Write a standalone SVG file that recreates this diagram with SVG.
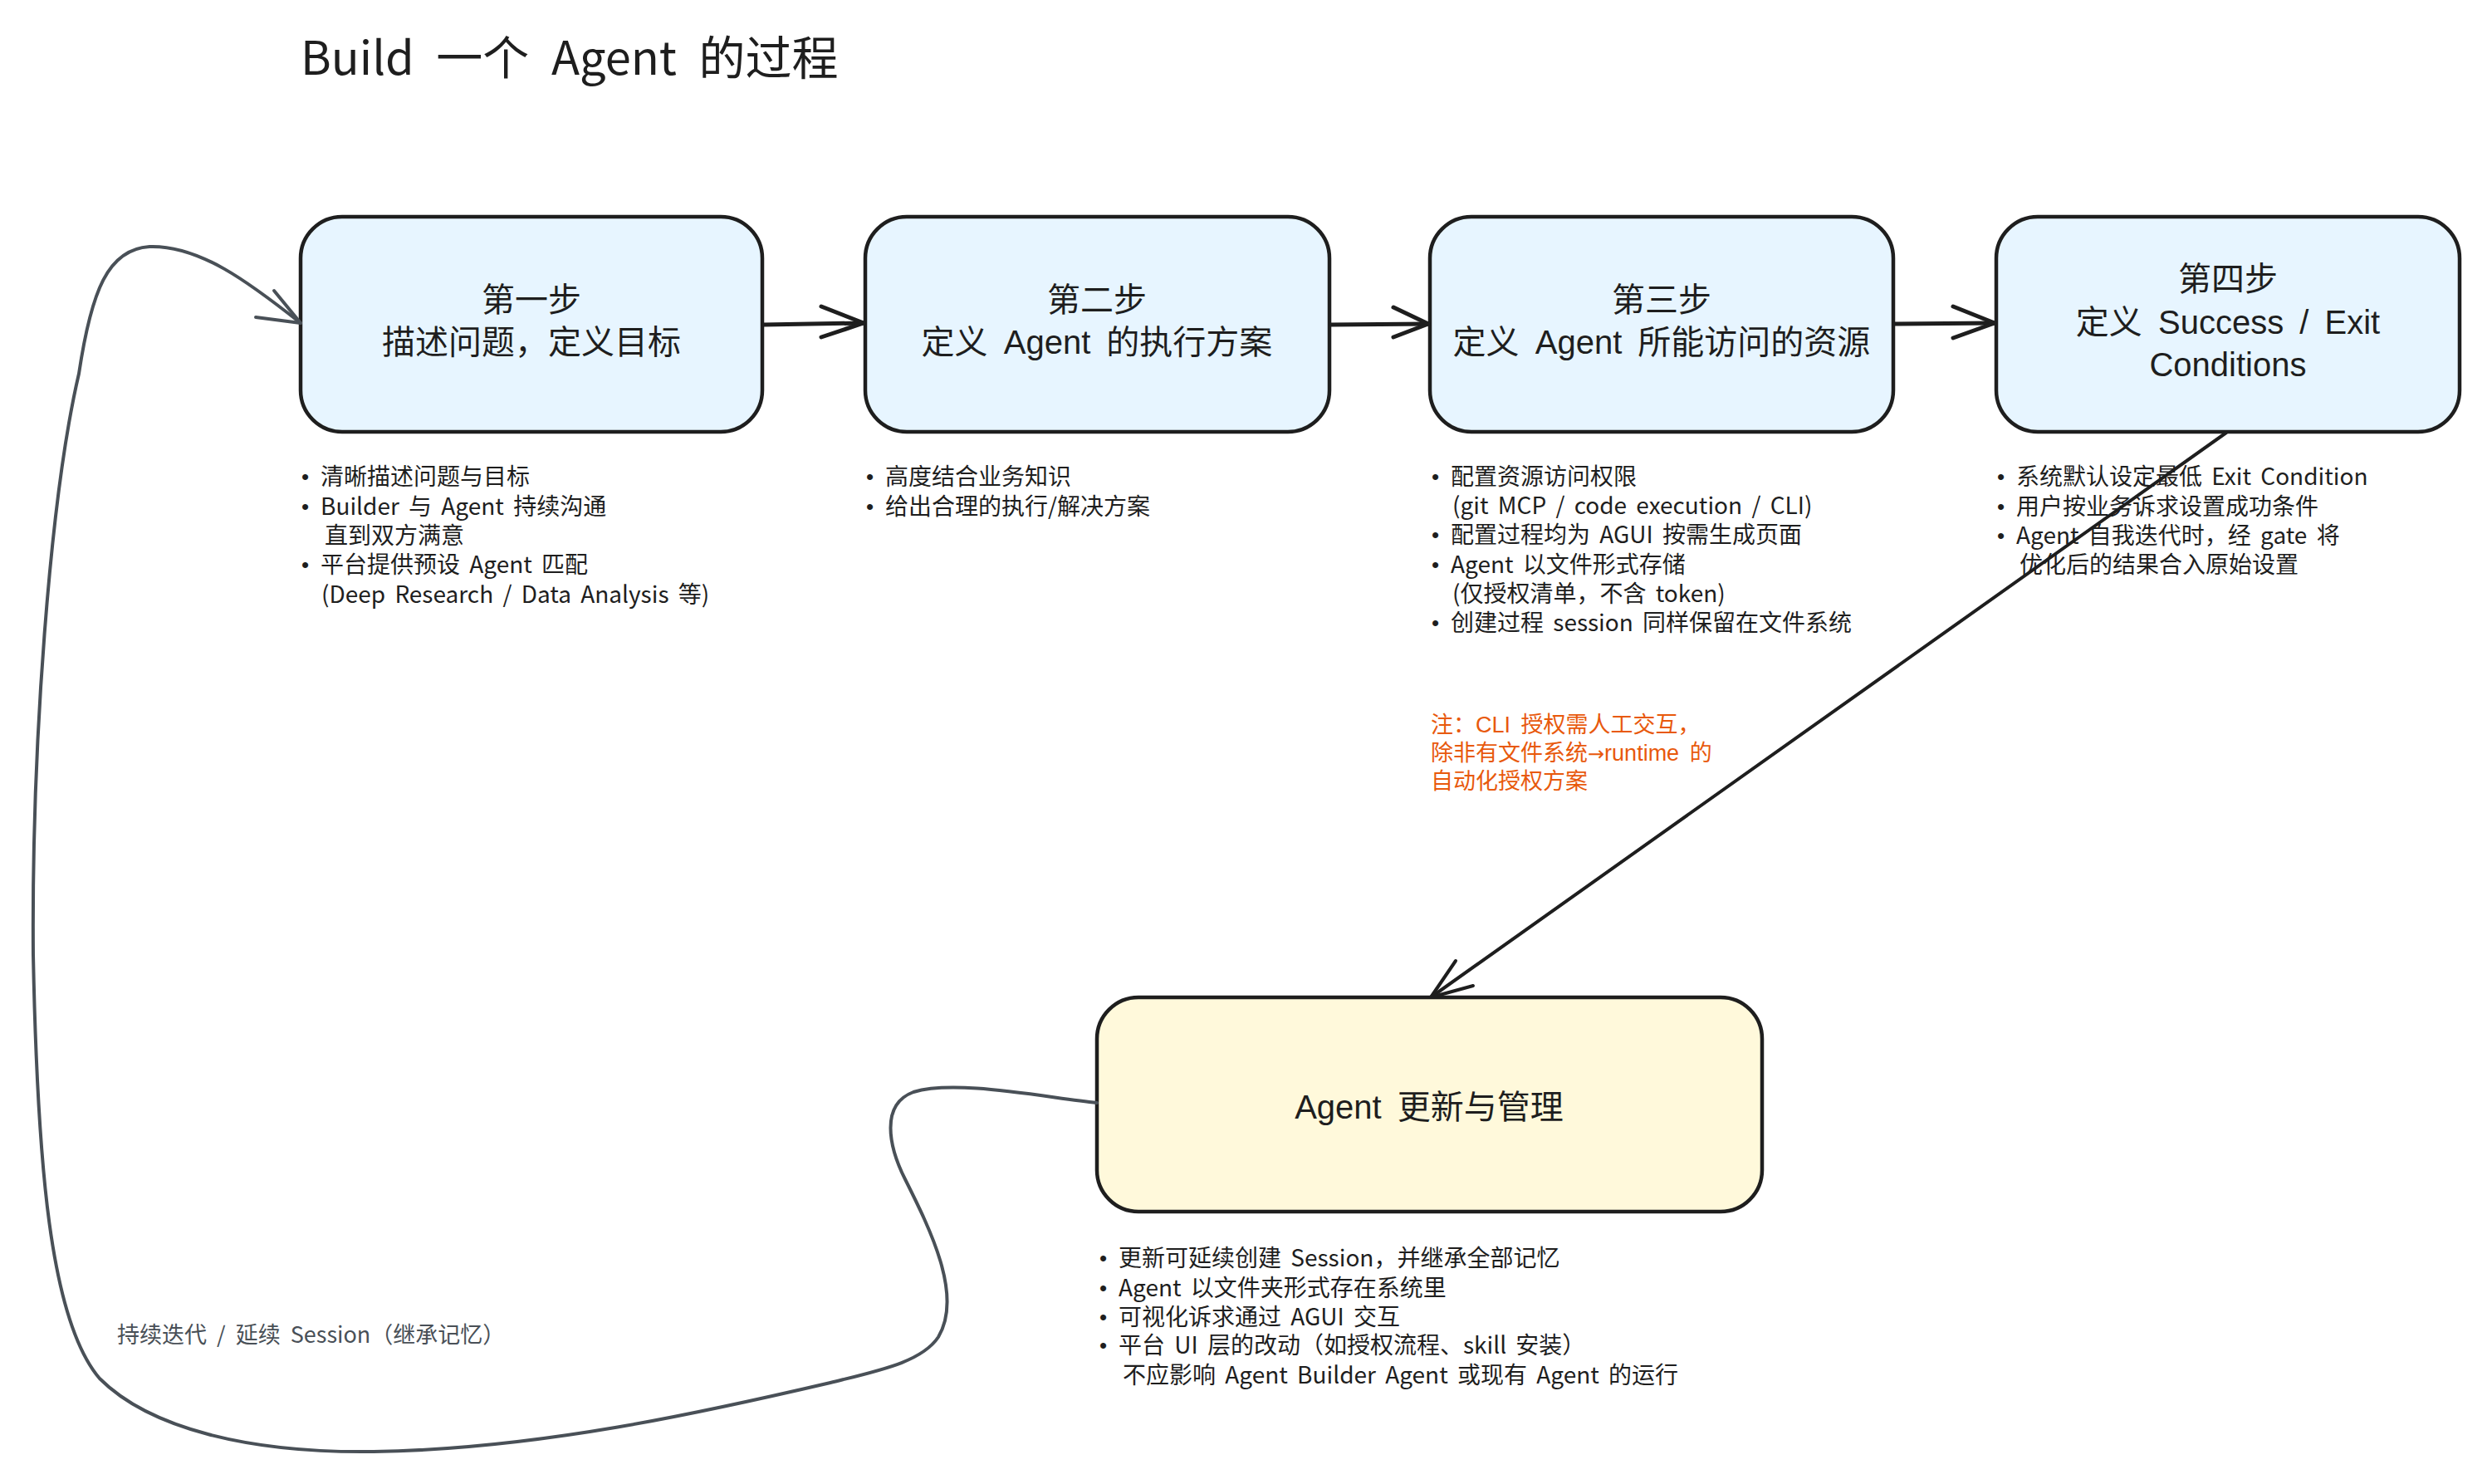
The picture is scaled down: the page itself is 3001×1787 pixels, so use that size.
<svg xmlns="http://www.w3.org/2000/svg" width="3001" height="1787" viewBox="0 0 3001 1787">
<style>
  text { font-family: 'Noto Sans CJK SC', 'Noto Sans', sans-serif; }
  .title { font-size: 56px; fill: #1e1e1e; word-spacing: 14px; }
  .box { fill: #e7f5ff; stroke: #1e1e1e; stroke-width: 4.5; }
  .box2 { fill: #fff9db; stroke: #1e1e1e; stroke-width: 4.5; }
  .lbl { font-family: 'Liberation Sans', 'Noto Sans CJK SC', sans-serif; font-size: 40px; fill: #1e1e1e; text-anchor: middle; word-spacing: 8px; }
  .bul { font-size: 28px; fill: #1e1e1e; word-spacing: 5px; }
  .dot { font-family: 'Liberation Sans', sans-serif; font-size: 26px; fill: #1e1e1e; }
  .note { font-family: 'Liberation Sans', 'Noto Sans CJK SC', sans-serif; font-size: 27px; fill: #e8590c; word-spacing: 5px; }
  .arr { font-family: 'DejaVu Sans', sans-serif; font-size: 24px; }
  .fb { font-size: 27px; fill: #495057; word-spacing: 6px; }
  .conn { fill: none; stroke: #1e1e1e; stroke-width: 5; stroke-linecap: round; stroke-linejoin: round; }
  .conn2 { fill: none; stroke: #1e1e1e; stroke-width: 4; stroke-linecap: round; stroke-linejoin: round; }
  .loop { fill: none; stroke: #495057; stroke-width: 4; stroke-linecap: round; stroke-linejoin: round; }
</style>
<rect width="3001" height="1787" fill="#ffffff"/>

<g id="title">
  <text class="title" x="362" y="90">Build 一个 Agent 的过程</text>
</g>

<g id="step1">
  <rect class="box" x="362" y="261" width="556" height="259" rx="50"/>
  <text class="lbl" x="640" y="375">第一步</text>
  <text class="lbl" x="640" y="426">描述问题，定义目标</text>
  <text class="dot" x="363" y="583">•</text>
  <text class="bul" x="386" y="584">清晰描述问题与目标</text>
  <text class="dot" x="363" y="619">•</text>
  <text class="bul" x="386" y="620">Builder 与 Agent 持续沟通</text>
  <text class="bul" x="391" y="655">直到双方满意</text>
  <text class="dot" x="363" y="689">•</text>
  <text class="bul" x="386" y="690">平台提供预设 Agent 匹配</text>
  <text class="bul" x="387" y="726">(Deep Research / Data Analysis 等)</text>
</g>

<g id="step2">
  <rect class="box" x="1042" y="261" width="559" height="259" rx="50"/>
  <text class="lbl" x="1321" y="375">第二步</text>
  <text class="lbl" x="1321" y="426">定义 Agent 的执行方案</text>
  <text class="dot" x="1043" y="583">•</text>
  <text class="bul" x="1066" y="584">高度结合业务知识</text>
  <text class="dot" x="1043" y="619">•</text>
  <text class="bul" x="1066" y="620">给出合理的执行/解决方案</text>
</g>

<g id="step3">
  <rect class="box" x="1722" y="261" width="558" height="259" rx="50"/>
  <text class="lbl" x="2001" y="375">第三步</text>
  <text class="lbl" x="2001" y="426">定义 Agent 所能访问的资源</text>
  <text class="dot" x="1724" y="583">•</text>
  <text class="bul" x="1747" y="584">配置资源访问权限</text>
  <text class="bul" x="1749" y="619">(git MCP / code execution / CLI)</text>
  <text class="dot" x="1724" y="653">•</text>
  <text class="bul" x="1747" y="654">配置过程均为 AGUI 按需生成页面</text>
  <text class="dot" x="1724" y="689">•</text>
  <text class="bul" x="1747" y="690">Agent 以文件形式存储</text>
  <text class="bul" x="1749" y="725">(仅授权清单，不含 token)</text>
  <text class="dot" x="1724" y="759">•</text>
  <text class="bul" x="1747" y="760">创建过程 session 同样保留在文件系统</text>
</g>

<g id="step4">
  <rect class="box" x="2404" y="261" width="558" height="259" rx="50"/>
  <text class="lbl" x="2683" y="350">第四步</text>
  <text class="lbl" x="2683" y="402">定义 Success / Exit</text>
  <text class="lbl" x="2683" y="453">Conditions</text>
  <text class="dot" x="2405" y="583">•</text>
  <text class="bul" x="2428" y="584">系统默认设定最低 Exit Condition</text>
  <text class="dot" x="2405" y="619">•</text>
  <text class="bul" x="2428" y="620">用户按业务诉求设置成功条件</text>
  <text class="dot" x="2405" y="654">•</text>
  <text class="bul" x="2428" y="655">Agent 自我迭代时，经 gate 将</text>
  <text class="bul" x="2432" y="690">优化后的结果合入原始设置</text>
</g>

<g id="note">
  <text class="note" x="1723" y="882">注：CLI 授权需人工交互，</text>
  <text class="note" x="1723" y="916">除非有文件系统<tspan class="arr">→</tspan>runtime 的</text>
  <text class="note" x="1723" y="950">自动化授权方案</text>
</g>

<g id="agent-update">
  <rect class="box2" x="1321" y="1201" width="801" height="258" rx="50"/>
  <text class="lbl" x="1721" y="1347">Agent 更新与管理</text>
  <text class="dot" x="1324" y="1524">•</text>
  <text class="bul" x="1347" y="1525">更新可延续创建 Session，并继承全部记忆</text>
  <text class="dot" x="1324" y="1560">•</text>
  <text class="bul" x="1347" y="1561">Agent 以文件夹形式存在系统里</text>
  <text class="dot" x="1324" y="1595">•</text>
  <text class="bul" x="1347" y="1596">可视化诉求通过 AGUI 交互</text>
  <text class="dot" x="1324" y="1629">•</text>
  <text class="bul" x="1347" y="1630">平台 UI 层的改动（如授权流程、skill 安装）</text>
  <text class="bul" x="1352" y="1666">不应影响 Agent Builder Agent 或现有 Agent 的运行</text>
</g>

<g id="loop-label">
  <text class="fb" x="141" y="1617">持续迭代 / 延续 Session（继承记忆）</text>
</g>

<g id="connectors">
  <path class="conn" d="M920,391 L1040,389"/>
  <path class="conn" d="M989,369 L1040,389 L989,406"/>
  <path class="conn" d="M1603,391 L1720,390"/>
  <path class="conn" d="M1678,370 L1720,390 L1678,406"/>
  <path class="conn" d="M2282,390 L2402,389"/>
  <path class="conn" d="M2352,369 L2402,389 L2352,407"/>
  <path class="conn2" d="M2681,521 L1723,1201"/>
  <path class="conn2" d="M1753,1157 L1723,1201 L1774,1187"/>
  <path class="loop" d="M1321,1328 C1250,1320 1150,1300 1100,1315 C1060,1330 1070,1380 1090,1420 C1120,1480 1160,1560 1130,1610 C1110,1640 1060,1650 1000,1665 C850,1700 650,1745 450,1748 C300,1750 180,1720 120,1660 C60,1590 45,1400 40,1150 C38,900 60,600 95,450 C110,350 130,300 180,297 C240,295 300,340 362,389"/>
  <path class="loop" d="M308,382 L362,389 L330,350"/>
</g>
</svg>
